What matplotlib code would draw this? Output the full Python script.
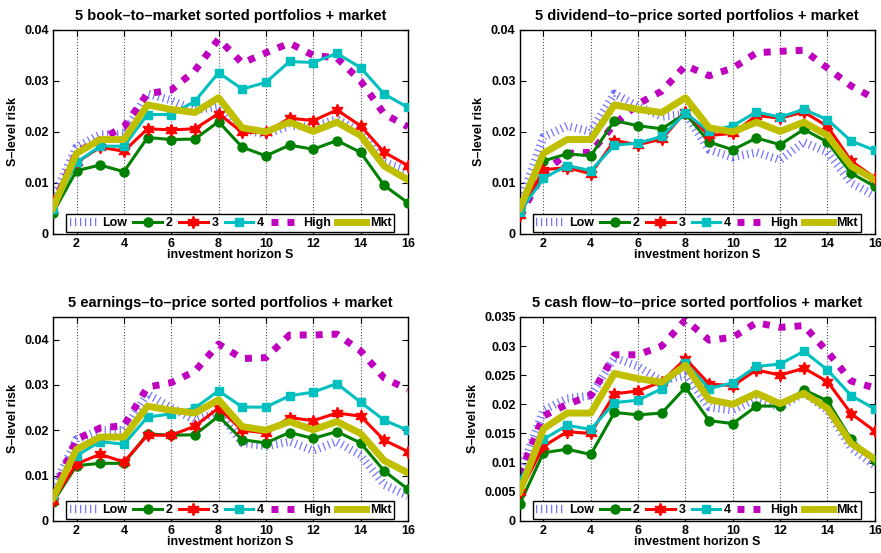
import matplotlib
matplotlib.use("Agg")
import matplotlib.pyplot as plt

plt.rcParams['font.family'] = ['Liberation Sans', 'DejaVu Sans']
plt.rcParams['font.weight'] = 'bold'

# investment horizon S
horizon = list(range(1, 17))

# market, same in every panel
mkt = [0.0050, 0.0158, 0.0185, 0.0185, 0.0253, 0.0244, 0.0238, 0.0267,
       0.0208, 0.0200, 0.0219, 0.0201, 0.0219, 0.0193, 0.0133, 0.0106]

# book-to-market
bm_low = [0.0070, 0.0170, 0.0195, 0.0195, 0.0275, 0.0262, 0.0242, 0.0250,
          0.0205, 0.0195, 0.0212, 0.0210, 0.0225, 0.0200, 0.0140, 0.0125]
bm_2 = [0.0041, 0.0124, 0.0135, 0.0122, 0.0189, 0.0185, 0.0186, 0.0220,
        0.0170, 0.0153, 0.0174, 0.0166, 0.0183, 0.0160, 0.0095, 0.0061]
bm_3 = [0.0064, 0.0140, 0.0170, 0.0162, 0.0206, 0.0204, 0.0206, 0.0236,
        0.0199, 0.0199, 0.0227, 0.0222, 0.0243, 0.0212, 0.0160, 0.0134]
bm_4 = [0.0048, 0.0140, 0.0172, 0.0172, 0.0234, 0.0234, 0.0260, 0.0316,
        0.0284, 0.0297, 0.0338, 0.0336, 0.0354, 0.0326, 0.0274, 0.0248]
bm_high = [0.0055, 0.0160, 0.0185, 0.0210, 0.0275, 0.0282, 0.0320, 0.0382,
           0.0335, 0.0355, 0.0374, 0.0350, 0.0345, 0.0300, 0.0235, 0.0210]

# dividend-to-price
dp_low = [0.0060, 0.0190, 0.0212, 0.0200, 0.0275, 0.0250, 0.0230, 0.0235,
          0.0165, 0.0150, 0.0160, 0.0145, 0.0180, 0.0160, 0.0100, 0.0075]
dp_2 = [0.0051, 0.0143, 0.0157, 0.0153, 0.0222, 0.0212, 0.0206, 0.0236,
        0.0180, 0.0165, 0.0188, 0.0175, 0.0205, 0.0180, 0.0119, 0.0093]
dp_3 = [0.0038, 0.0126, 0.0130, 0.0118, 0.0183, 0.0175, 0.0186, 0.0239,
        0.0193, 0.0197, 0.0232, 0.0227, 0.0239, 0.0211, 0.0143, 0.0110]
dp_4 = [0.0043, 0.0109, 0.0134, 0.0124, 0.0174, 0.0178, 0.0191, 0.0237,
        0.0201, 0.0212, 0.0239, 0.0229, 0.0244, 0.0224, 0.0182, 0.0164]
dp_high = [0.0035, 0.0120, 0.0158, 0.0160, 0.0215, 0.0255, 0.0280, 0.0330,
           0.0310, 0.0325, 0.0355, 0.0358, 0.0360, 0.0325, 0.0290, 0.0265]

# earnings-to-price
ep_low = [0.0070, 0.0180, 0.0200, 0.0200, 0.0280, 0.0250, 0.0222, 0.0240,
          0.0172, 0.0165, 0.0175, 0.0155, 0.0175, 0.0145, 0.0080, 0.0055]
ep_2 = [0.0041, 0.0122, 0.0127, 0.0127, 0.0192, 0.0189, 0.0190, 0.0231,
        0.0179, 0.0172, 0.0195, 0.0182, 0.0197, 0.0172, 0.0110, 0.0070]
ep_3 = [0.0045, 0.0126, 0.0147, 0.0130, 0.0189, 0.0189, 0.0209, 0.0249,
        0.0200, 0.0194, 0.0228, 0.0221, 0.0238, 0.0231, 0.0178, 0.0153]
ep_4 = [0.0057, 0.0144, 0.0175, 0.0169, 0.0229, 0.0236, 0.0249, 0.0287,
        0.0251, 0.0251, 0.0276, 0.0284, 0.0303, 0.0262, 0.0222, 0.0200]
ep_high = [0.0060, 0.0180, 0.0205, 0.0210, 0.0295, 0.0305, 0.0330, 0.0390,
           0.0358, 0.0360, 0.0410, 0.0410, 0.0412, 0.0375, 0.0315, 0.0290]

# cash flow-to-price
cp_low = [0.0080, 0.0190, 0.0210, 0.0215, 0.0280, 0.0265, 0.0240, 0.0250,
          0.0195, 0.0190, 0.0210, 0.0195, 0.0220, 0.0190, 0.0125, 0.0095]
cp_2 = [0.0029, 0.0117, 0.0123, 0.0114, 0.0186, 0.0182, 0.0185, 0.0229,
        0.0172, 0.0167, 0.0197, 0.0197, 0.0225, 0.0206, 0.0140, 0.0104]
cp_3 = [0.0049, 0.0128, 0.0153, 0.0150, 0.0218, 0.0223, 0.0239, 0.0278,
        0.0235, 0.0232, 0.0259, 0.0250, 0.0262, 0.0239, 0.0184, 0.0154]
cp_4 = [0.0070, 0.0140, 0.0164, 0.0157, 0.0203, 0.0207, 0.0227, 0.0271,
        0.0227, 0.0237, 0.0265, 0.0269, 0.0291, 0.0259, 0.0215, 0.0192]
cp_high = [0.0080, 0.0180, 0.0200, 0.0215, 0.0285, 0.0285, 0.0300, 0.0345,
           0.0310, 0.0315, 0.0340, 0.0332, 0.0335, 0.0290, 0.0240, 0.0228]

titles = ["5 book\u2013to\u2013market sorted portfolios + market",
          "5 dividend\u2013to\u2013price sorted portfolios + market",
          "5 earnings\u2013to\u2013price sorted portfolios + market",
          "5 cash flow\u2013to\u2013price sorted portfolios + market"]
ylims = [0.04, 0.04, 0.045, 0.035]
yticks = [[0, 0.01, 0.02, 0.03, 0.04],
          [0, 0.01, 0.02, 0.03, 0.04],
          [0, 0.01, 0.02, 0.03, 0.04],
          [0, 0.005, 0.01, 0.015, 0.02, 0.025, 0.03, 0.035]]
ytick_labels = [["0", "0.01", "0.02", "0.03", "0.04"],
                ["0", "0.01", "0.02", "0.03", "0.04"],
                ["0", "0.01", "0.02", "0.03", "0.04"],
                ["0", "0.005", "0.01", "0.015", "0.02", "0.025", "0.03", "0.035"]]
panels = [(bm_low, bm_2, bm_3, bm_4, bm_high),
          (dp_low, dp_2, dp_3, dp_4, dp_high),
          (ep_low, ep_2, ep_3, ep_4, ep_high),
          (cp_low, cp_2, cp_3, cp_4, cp_high)]

# axes boxes in figure fractions [left, bottom, width, height]
boxes = [[0.060, 0.577, 0.403, 0.369],
         [0.590, 0.577, 0.403, 0.369],
         [0.060, 0.058, 0.403, 0.369],
         [0.590, 0.058, 0.403, 0.369]]

fig = plt.figure(figsize=(8.81, 5.53), dpi=100)

for i in range(4):
    low, p2, p3, p4, high = panels[i]
    ax = fig.add_axes(boxes[i])

    ax.plot(horizon, low, color="#7474ff", lw=6, ls=(0, (0.15, 0.45)),
            label="Low", zorder=2)
    ax.plot(horizon, p2, color="#008000", lw=2.2, marker="o", ms=6.5,
            label="2", zorder=3)
    ax.plot(horizon, p3, color="#ff0000", lw=2.2, marker=(6, 1, 0), ms=9,
            label="3", zorder=3)
    ax.plot(horizon, p4, color="#00bfbf", lw=2.2, marker="s", ms=6,
            label="4", zorder=3)
    ax.plot(horizon, high, color="#bf00bf", lw=5, ls=(0, (1, 1.3)),
            label="High", zorder=2)
    ax.plot(horizon, mkt, color="#bfbf00", lw=5, label="Mkt", zorder=4)

    ax.set_xlim(1, 16)
    ax.set_ylim(0, ylims[i])
    ax.set_xticks(range(2, 17, 2))
    ax.set_yticks(yticks[i])
    ax.set_yticklabels(ytick_labels[i])
    ax.grid(axis="x", ls=":", color="#555555", lw=0.8)
    ax.tick_params(direction="in", top=True, right=True, labelsize=9,
                   length=4, width=0.8, pad=3)
    for lab in ax.get_xticklabels() + ax.get_yticklabels():
        lab.set_fontweight("bold")
    for sp in ax.spines.values():
        sp.set_linewidth(1.0)

    ax.set_title(titles[i], fontsize=10.5, fontweight="bold", pad=7)
    ax.set_xlabel("investment horizon S", fontsize=9, fontweight="bold",
                  labelpad=-1)
    ax.set_ylabel("S\u2013level risk", fontsize=9, fontweight="bold",
                  labelpad=4)

    leg = ax.legend(loc="lower center", ncol=6, fontsize=9,
                    frameon=True, fancybox=False, edgecolor="black",
                    handlelength=2.3, handletextpad=0.3, columnspacing=0.5,
                    borderpad=0.25, borderaxespad=0.15, framealpha=1)
    leg.get_frame().set_linewidth(1.0)
    for t in leg.get_texts():
        t.set_fontweight("bold")

fig.savefig("out.png", dpi=100)
